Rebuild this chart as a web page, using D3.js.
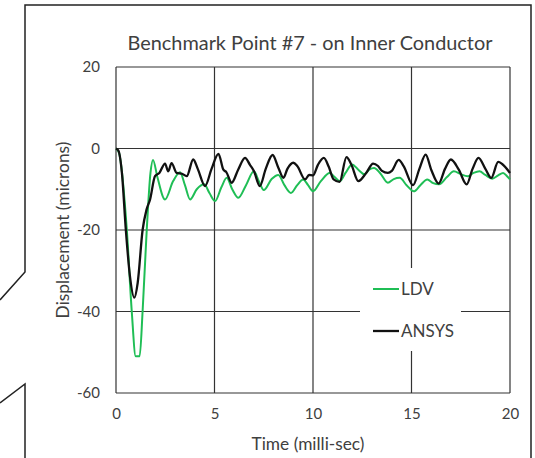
<!DOCTYPE html>
<html>
<head>
<meta charset="utf-8">
<script src="https://cdn.jsdelivr.net/npm/d3@7"></script>
<style>
  body { margin: 0; background: #fff; }
  text { font-family: Lato, "Open Sans", sans-serif; fill: #404040; }
</style>
</head>
<body>
<svg id="chart" width="535" height="458"></svg>
<script>
// time in milli-sec, displacement in microns
const ldvT = [0, 0.15, 0.55, 0.8, 1.0, 1.2, 1.35, 1.56, 1.75, 1.88, 2.1, 2.49, 2.9, 3.25, 3.5, 3.76, 4.1, 4.48, 4.75, 5.03,
  5.35, 5.62, 5.9, 6.21, 6.6, 7.0, 7.25, 7.5, 7.9, 8.24, 8.55, 8.88, 9.2, 9.5, 9.75, 10.0, 10.4, 10.85, 11.1, 11.37,
  11.65, 11.98, 12.3, 12.6, 12.85, 13.1, 13.4, 13.8, 14.1, 14.4, 14.75, 15.12, 15.45, 15.8, 16.1, 16.4, 16.8, 17.15,
  17.5, 17.85, 18.15, 18.45, 18.75, 19.1, 19.4, 19.65, 19.85, 20];
const ldvV = [0, -1, -20, -40, -51, -51, -40, -20, -6, -2.8, -7, -12.5, -8, -5.8, -9, -12.5, -10, -8.8, -11, -12.9,
  -9.5, -7.2, -10, -12.1, -9, -5.6, -8, -10.2, -7.5, -6.5, -9, -10.9, -9, -7.6, -9, -10.5, -8, -6, -7, -8,
  -6, -3.9, -5.2, -6.3, -5.2, -4.8, -6, -8.4, -7.5, -7.2, -9, -10.5, -9, -7.6, -8.5, -8.8, -7, -5.6,
  -6.3, -6.8, -6, -5.6, -6.5, -7.4, -6.6, -6, -6.8, -7.6];

const ansysT = [0, 0.12, 0.3, 0.5, 0.7, 0.93, 1.1, 1.35, 1.55, 1.73, 1.98, 2.2, 2.49, 2.65, 2.82, 3.08, 3.35, 3.59, 3.92,
  4.15, 4.52, 4.85, 5.2, 5.45, 5.6, 5.87, 6.2, 6.55, 6.8, 7.0, 7.3, 7.6, 7.95, 8.24, 8.5, 8.7, 9.0, 9.2, 9.6, 9.8,
  10.0, 10.25, 10.55, 10.8, 11.05, 11.35, 11.7, 11.95, 12.3, 12.7, 13.05, 13.3, 13.5, 13.8, 14.0, 14.35, 14.6, 15.08,
  15.4, 15.72, 16.0, 16.38, 16.7, 17.0, 17.4, 17.8, 18.1, 18.4, 18.75, 19.05, 19.4, 19.6, 20];
const ansysV = [0, -0.5, -6, -20, -31, -36.6, -33, -20, -15, -12.5, -6.8, -6, -3.7, -5.6, -3.6, -6, -6.2, -6.8, -2.7,
  -5, -9.2, -5, -1.3, -5.2, -5.8, -8.4, -5.2, -2.3, -4, -5.5, -9.2, -5, -1.6, -4.7, -7.2, -5, -3.5, -4.3, -7.6, -6.5,
  -6.6, -4, -2.3, -4.5, -7.6, -8.2, -2.1, -4, -8, -6, -3.7, -4.3, -5.5, -6, -5.5, -2.8, -4.3, -9,
  -5, -1.5, -5.2, -8.6, -5, -2.7, -5.2, -8.8, -5, -2.3, -5, -7.2, -3.3, -3.8, -6];

const xTicks = [0, 5, 10, 15, 20];
const yTicks = [20, 0, -20, -40, -60];
const seriesNames = ['LDV', 'ANSYS'];
const seriesColors = ['#1fbe55', '#111111'];

const svg = d3.select('#chart');
const plot = { left: 116, right: 510, top: 67, bottom: 393 };

const xScale = d3.scaleLinear().domain([0, 20]).range([plot.left, plot.right]);
const yScale = d3.scaleLinear().domain([-60, 20]).range([plot.bottom, plot.top]);

// outer frame (partly hidden on the left)
svg.append('path')
  .attr('d', 'M0,300 L25,272 L25,5 L531,5 L531,458')
  .attr('fill', 'none').attr('stroke', '#222').attr('stroke-width', 1.5);
svg.append('path')
  .attr('d', 'M0,403 L25,384 L25,458')
  .attr('fill', 'none').attr('stroke', '#222').attr('stroke-width', 1.5);

// grid
const grid = svg.append('g');
grid.selectAll('line.gx').data(xTicks).enter().append('line')
  .attr('x1', d => xScale(d)).attr('x2', d => xScale(d))
  .attr('y1', plot.top).attr('y2', plot.bottom)
  .attr('stroke', '#333').attr('stroke-width', 1.2);
grid.selectAll('line.gy').data(yTicks).enter().append('line')
  .attr('x1', plot.left).attr('x2', plot.right)
  .attr('y1', d => yScale(d)).attr('y2', d => yScale(d))
  .attr('stroke', '#333').attr('stroke-width', 1.2);

// legend box hides the grid below it
svg.append('rect')
  .attr('x', 360).attr('y', 268).attr('width', 101).attr('height', 83)
  .attr('fill', '#fff');

// axes labels (plain hyphen minus like the original)
const xAxis = svg.append('g')
  .attr('transform', `translate(0,${plot.bottom})`)
  .call(d3.axisBottom(xScale).tickValues(xTicks).tickSize(0).tickPadding(15)
    .tickFormat(d => String(d)));
const yAxis = svg.append('g')
  .attr('transform', `translate(${plot.left},0)`)
  .call(d3.axisLeft(yScale).tickValues(yTicks).tickSize(0).tickPadding(16)
    .tickFormat(d => String(d)));
[xAxis, yAxis].forEach(a => {
  a.select('.domain').remove();
  a.selectAll('text').attr('font-size', 15).attr('fill', '#404040')
    .attr('font-family', 'Lato, "Open Sans", sans-serif');
});

// series
const series = [
  { name: seriesNames[0], color: seriesColors[0], width: 2, pts: ldvT.map((t, i) => [t, ldvV[i]]) },
  { name: seriesNames[1], color: seriesColors[1], width: 2.3, pts: ansysT.map((t, i) => [t, ansysV[i]]) }
];
const line = d3.line()
  .x(d => xScale(d[0]))
  .y(d => yScale(d[1]))
  .curve(d3.curveMonotoneX);
svg.selectAll('path.series').data(series).enter().append('path')
  .attr('class', 'series')
  .attr('d', d => line(d.pts))
  .attr('fill', 'none')
  .attr('stroke', d => d.color)
  .attr('stroke-width', d => d.width)
  .attr('stroke-linejoin', 'round');

// legend
const legend = svg.append('g');
series.forEach((s, i) => {
  const y = 289 + i * 42;
  legend.append('line')
    .attr('x1', 373).attr('x2', 399).attr('y1', y).attr('y2', y)
    .attr('stroke', s.color).attr('stroke-width', s.width);
  legend.append('text')
    .attr('x', 401).attr('y', y).attr('dy', '0.36em')
    .attr('font-size', 17)
    .text(s.name);
});

// titles, sized to the widths in the reference
function fit(sel, width) {
  const w = sel.node().getComputedTextLength();
  const fs = +sel.attr('font-size');
  sel.attr('font-size', fs * width / w);
}
const title = svg.append('text')
  .attr('x', 310).attr('y', 50).attr('text-anchor', 'middle')
  .attr('font-size', 20).attr('fill', '#333')
  .text('Benchmark Point #7 - on Inner Conductor');
fit(title, 365);

const xTitle = svg.append('text')
  .attr('x', 308).attr('y', 450).attr('text-anchor', 'middle')
  .attr('font-size', 16)
  .text('Time (milli-sec)');
fit(xTitle, 113);

const yTitle = svg.append('text')
  .attr('transform', 'translate(69,230) rotate(-90)')
  .attr('text-anchor', 'middle')
  .attr('font-size', 16)
  .text('Displacement (microns)');
fit(yTitle, 177);
</script>
</body>
</html>
